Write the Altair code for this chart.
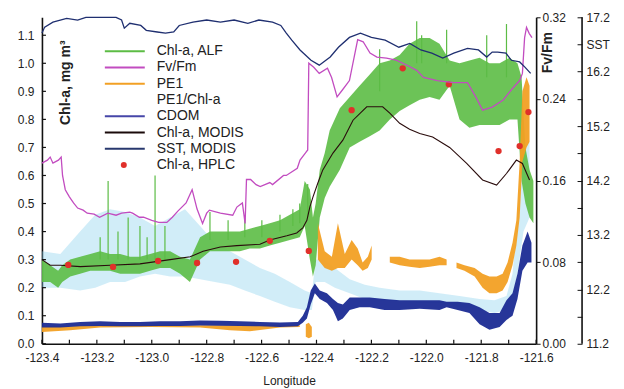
import altair as alt
import pandas as pd

W, H = 495, 327
FONT = "Liberation Sans"
TXT = "#222222"
AX = "#111111"
LFS = 12

lon_domain = [-123.4, -121.6]
chl_domain = [0.0, 1.164]
fv_domain = [0.0, 0.32]
sst_domain = [11.2, 17.2]

x_label_values = [-123.4, -123.2, -123.0, -122.8, -122.6, -122.4, -122.2, -122.0, -121.8, -121.6]
x_tick_values = [-123.4, -123.3, -123.2, -123.1, -123.0, -122.9, -122.8, -122.7, -122.6, -122.5,
                 -122.4, -122.3, -122.2, -122.1, -122.0, -121.9, -121.8, -121.7, -121.6]
chl_tick_values = [0.0, 0.1, 0.2, 0.3, 0.4, 0.5, 0.6, 0.7, 0.8, 0.9, 1.0, 1.1]
fv_tick_values = [0.0, 0.08, 0.16, 0.24, 0.32]
sst_tick_values = [11.2, 11.7, 12.2, 12.7, 13.2, 13.7, 14.2, 14.7, 15.2, 15.7, 16.2, 16.7, 17.2]
sst_labels = ["11.2", "12.2", "13.2", "14.2", "15.2", "16.2", "17.2"]
sst_title_at = "16.7"

# ---- Chl-a, ALF (green noisy band) ----
alf_lon = [-123.40, -123.370, -123.341, -123.326, -123.297, -123.261, -123.224, -123.188, -123.152,
           -123.115, -123.079, -123.043, -123.006, -122.970, -122.933, -122.897, -122.861, -122.824,
           -122.788, -122.752, -122.715, -122.679, -122.643, -122.606, -122.570, -122.533, -122.497,
           -122.461, -122.443, -122.424, -122.413, -122.403, -122.388, -122.370, -122.352, -122.315,
           -122.279, -122.243, -122.206, -122.170, -122.133, -122.097, -122.061, -122.024, -121.988,
           -121.952, -121.915, -121.879, -121.843, -121.806, -121.770, -121.733, -121.697, -121.668,
           -121.653, -121.639, -121.624, -121.610]
alf_lo = [0.22, 0.22, 0.20, 0.22, 0.24, 0.25, 0.26, 0.26, 0.26, 0.25, 0.25, 0.25, 0.26, 0.27, 0.27,
          0.25, 0.22, 0.30, 0.33, 0.33, 0.33, 0.33, 0.34, 0.34, 0.35, 0.36, 0.37, 0.38, 0.42, 0.30,
          0.24, 0.28, 0.45, 0.52, 0.56, 0.62, 0.70, 0.72, 0.74, 0.76, 0.80, 0.83, 0.85, 0.87, 0.88,
          0.87, 0.92, 0.80, 0.77, 0.78, 0.78, 0.78, 0.80, 0.80, 0.58, 0.50, 0.45, 0.43]
alf_hi = [0.30, 0.28, 0.26, 0.28, 0.30, 0.31, 0.32, 0.33, 0.32, 0.32, 0.31, 0.31, 0.32, 0.33, 0.33,
          0.31, 0.30, 0.38, 0.40, 0.40, 0.40, 0.40, 0.41, 0.42, 0.43, 0.44, 0.46, 0.48, 0.58, 0.55,
          0.45, 0.50, 0.62, 0.68, 0.76, 0.84, 0.88, 0.92, 0.96, 1.00, 1.01, 1.03, 1.07, 1.09, 1.09,
          1.07, 1.01, 1.00, 1.01, 1.02, 1.00, 1.00, 1.02, 1.00, 0.95, 0.70, 0.62, 0.58]
spike_lon = [-123.188, -123.159, -123.123, -123.086, -123.043, -123.017, -122.988, -122.952,
             -122.788, -122.722, -122.661, -122.599, -122.533, -122.486, -122.461, -122.432,
             -122.170, -122.035, -122.017, -121.926, -121.780, -121.708]
spike_lo = [0.30, 0.30, 0.30, 0.30, 0.30, 0.30, 0.30, 0.30, 0.37, 0.37, 0.38, 0.38, 0.40, 0.42,
            0.43, 0.45, 0.90, 1.00, 1.00, 1.00, 0.95, 0.95]
spike_hi = [0.38, 0.58, 0.40, 0.45, 0.42, 0.38, 0.60, 0.42, 0.47, 0.44, 0.45, 0.44, 0.46, 0.48,
            0.50, 0.57, 1.05, 1.15, 1.10, 1.12, 1.10, 1.14]

# ---- PE1 (orange noisy band, with gaps) ----
pe1_seg = ["A"] * 9 + ["B"] * 3 + ["D"] * 10 + ["E"] * 7 + ["F"] * 14
pe1_lon = [-123.40, -123.297, -123.188, -123.006, -122.824, -122.715, -122.643, -122.533, -122.461,
           -122.439, -122.428, -122.417,
           -122.395, -122.370, -122.344, -122.322, -122.297, -122.272, -122.250, -122.232, -122.213, -122.199,
           -122.133, -122.097, -122.061, -122.024, -121.988, -121.952, -121.926,
           -121.890, -121.861, -121.824, -121.795, -121.770, -121.744, -121.722, -121.704, -121.686,
           -121.672, -121.660, -121.650, -121.635, -121.624]
pe1_lo = [0.042, 0.048, 0.058, 0.060, 0.058, 0.048, 0.045, 0.058, 0.060,
          0.025, 0.020, 0.025,
          0.30, 0.27, 0.26, 0.27, 0.27, 0.30, 0.28, 0.26, 0.27, 0.30,
          0.29, 0.28, 0.275, 0.27, 0.275, 0.28, 0.28,
          0.27, 0.26, 0.24, 0.20, 0.18, 0.18, 0.19, 0.22, 0.28, 0.35, 0.45, 0.65, 0.70, 0.72]
pe1_hi = [0.062, 0.062, 0.066, 0.066, 0.066, 0.066, 0.066, 0.066, 0.066,
          0.070, 0.075, 0.060,
          0.43, 0.33, 0.31, 0.43, 0.32, 0.37, 0.34, 0.29, 0.31, 0.35,
          0.31, 0.31, 0.30, 0.30, 0.30, 0.31, 0.30,
          0.29, 0.28, 0.27, 0.25, 0.24, 0.24, 0.25, 0.29, 0.36, 0.44, 0.65, 0.90, 0.95, 0.92]

# ---- PE1/Chl-a (light cyan scatter cloud) ----
ratio_lon = [-123.40, -123.333, -123.261, -123.206, -123.152, -123.097, -123.043, -122.988, -122.933,
             -122.879, -122.824, -122.770, -122.715, -122.661, -122.606, -122.552, -122.497, -122.443,
             -122.417, -122.403, -122.370, -122.333, -122.279, -122.224, -122.170, -122.097, -122.024,
             -121.952, -121.879, -121.806, -121.752, -121.708, -121.686, -121.668, -121.646, -121.624]
ratio_lo = [0.20, 0.20, 0.19, 0.20, 0.22, 0.22, 0.24, 0.25, 0.24, 0.24, 0.23, 0.22, 0.21, 0.19, 0.17,
            0.15, 0.13, 0.12, 0.12, 0.22, 0.22, 0.20, 0.18, 0.16, 0.155, 0.15, 0.145, 0.145, 0.13,
            0.12, 0.11, 0.12, 0.17, 0.25, 0.40, 0.45]
ratio_hi = [0.33, 0.32, 0.40, 0.46, 0.48, 0.47, 0.45, 0.42, 0.45, 0.48, 0.42, 0.36, 0.33, 0.30, 0.27,
            0.25, 0.22, 0.19, 0.18, 0.30, 0.30, 0.27, 0.23, 0.21, 0.20, 0.19, 0.19, 0.18, 0.17,
            0.16, 0.155, 0.17, 0.25, 0.45, 0.70, 0.72]

# ---- CDOM (dark blue noisy band) ----
cdom_lon = [-123.40, -123.333, -123.261, -123.188, -123.115, -123.043, -122.970, -122.897, -122.824,
            -122.752, -122.679, -122.606, -122.533, -122.468, -122.450, -122.435, -122.421, -122.406,
            -122.388, -122.362, -122.340, -122.322, -122.304, -122.279, -122.243, -122.206, -122.152,
            -122.097, -122.024, -121.952, -121.926, -121.886, -121.843, -121.806, -121.770, -121.733,
            -121.708, -121.686, -121.668, -121.650, -121.631, -121.617]
cdom_lo = [0.058, 0.058, 0.062, 0.063, 0.062, 0.062, 0.063, 0.063, 0.065, 0.064, 0.063, 0.062, 0.060,
           0.062, 0.075, 0.090, 0.140, 0.180, 0.160, 0.145, 0.120, 0.080, 0.090, 0.120, 0.130, 0.130,
           0.120, 0.120, 0.125, 0.120, 0.130, 0.120, 0.110, 0.070, 0.050, 0.060, 0.085, 0.100, 0.160,
           0.260, 0.290, 0.290]
cdom_hi = [0.075, 0.072, 0.078, 0.080, 0.078, 0.078, 0.080, 0.080, 0.083, 0.082, 0.080, 0.078, 0.076,
           0.078, 0.100, 0.130, 0.190, 0.215, 0.190, 0.180, 0.160, 0.145, 0.140, 0.165, 0.165, 0.165,
           0.160, 0.155, 0.155, 0.155, 0.150, 0.150, 0.145, 0.130, 0.110, 0.110, 0.155, 0.180, 0.250,
           0.350, 0.400, 0.360]

# ---- Chl-a, MODIS (dark line) ----
modis_lon = [-123.40, -123.37, -123.333, -123.26, -123.151, -123.043, -122.933, -122.86, -122.813,
             -122.75, -122.69, -122.606, -122.57, -122.508, -122.472, -122.45, -122.435, -122.424,
             -122.413, -122.395, -122.377, -122.34, -122.304, -122.267, -122.217, -122.159, -122.133,
             -122.097, -122.061, -122.024, -121.977, -121.915, -121.853, -121.795, -121.744, -121.708,
             -121.672, -121.65, -121.624]
modis_val = [0.30, 0.28, 0.28, 0.275, 0.28, 0.285, 0.30, 0.31, 0.33, 0.345, 0.35, 0.355, 0.37, 0.385,
             0.395, 0.413, 0.44, 0.488, 0.523, 0.573, 0.62, 0.68, 0.726, 0.797, 0.845, 0.845, 0.822,
             0.786, 0.765, 0.75, 0.737, 0.70, 0.643, 0.584, 0.566, 0.607, 0.655, 0.643, 0.584]

# ---- Chl-a, HPLC (red dots) ----
hplc_lon = [-123.304, -123.141, -122.977, -122.835, -122.693, -122.570, -122.428, -122.272, -122.086,
            -121.918, -121.737, -121.660, -121.628]
hplc_val = [0.281, 0.274, 0.295, 0.288, 0.292, 0.367, 0.331, 0.833, 0.982, 0.925, 0.687, 0.705, 0.826]

# ---- Fv/Fm (magenta line) ----
fv_lon = [-123.40, -123.38, -123.37, -123.36, -123.34, -123.33, -123.325, -123.315, -123.30, -123.285,
          -123.27, -123.25, -123.235, -123.21, -123.19, -123.16, -123.13, -123.11, -123.08, -123.07,
          -123.045, -123.03, -123.0, -122.975, -122.945, -122.925, -122.905, -122.875, -122.853,
          -122.835, -122.815, -122.80, -122.79, -122.75, -122.705, -122.69, -122.67, -122.66, -122.655,
          -122.64, -122.62, -122.605, -122.57, -122.56, -122.52, -122.51, -122.47, -122.46, -122.44,
          -122.432, -122.428, -122.41, -122.39, -122.36, -122.345, -122.325, -122.305, -122.28,
          -122.25, -122.23, -122.205, -122.18, -122.145, -122.11, -122.07, -122.035, -122.01, -121.96,
          -121.90, -121.85, -121.82, -121.795, -121.76, -121.72, -121.69, -121.66, -121.65, -121.642,
          -121.635, -121.625, -121.615]
fv_val = [0.177, 0.180, 0.183, 0.177, 0.180, 0.183, 0.165, 0.151, 0.144, 0.138, 0.133, 0.131, 0.128,
          0.127, 0.124, 0.128, 0.126, 0.128, 0.129, 0.128, 0.124, 0.124, 0.121, 0.119, 0.119, 0.124,
          0.130, 0.138, 0.151, 0.132, 0.118, 0.128, 0.131, 0.128, 0.126, 0.134, 0.138, 0.118, 0.161,
          0.161, 0.156, 0.154, 0.158, 0.156, 0.165, 0.165, 0.172, 0.180, 0.187, 0.190, 0.275, 0.271,
          0.265, 0.270, 0.261, 0.242, 0.249, 0.258, 0.298, 0.296, 0.285, 0.281, 0.280, 0.278, 0.273,
          0.268, 0.261, 0.258, 0.256, 0.256, 0.242, 0.229, 0.232, 0.239, 0.249, 0.258, 0.265, 0.300,
          0.310, 0.304, 0.300]

# ---- SST, MODIS (navy line) ----
sst_lon = [-123.40, -123.39, -123.36, -123.31, -123.27, -123.24, -123.19, -123.13, -123.11, -123.10,
           -123.08, -123.04, -123.02, -122.98, -122.95, -122.92, -122.90, -122.85, -122.80, -122.75,
           -122.70, -122.65, -122.61, -122.56, -122.53, -122.51, -122.49, -122.46, -122.42, -122.39,
           -122.35, -122.32, -122.28, -122.24, -122.20, -122.15, -122.10, -122.06, -122.02, -121.98,
           -121.94, -121.90, -121.85, -121.81, -121.78, -121.76, -121.74, -121.71, -121.69, -121.66,
           -121.64, -121.62]
sst_val = [16.91, 17.02, 17.11, 17.18, 17.15, 17.20, 17.20, 17.20, 17.15, 17.00, 17.09, 17.05, 16.96,
           16.93, 16.91, 16.93, 17.05, 17.11, 17.15, 17.11, 17.15, 17.09, 17.15, 17.11, 17.05, 16.91,
           16.78, 16.60, 16.41, 16.32, 16.47, 16.65, 16.83, 16.91, 16.83, 16.78, 16.65, 16.72, 16.60,
           16.54, 16.45, 16.54, 16.63, 16.60, 16.47, 16.56, 16.56, 16.54, 16.41, 16.38, 16.28, 16.17]

# ---- legend ----
leg_names = ["Chl-a, ALF", "Fv/Fm", "PE1", "PE1/Chl-a", "CDOM", "Chl-a, MODIS", "SST, MODIS", "Chl-a, HPLC"]
leg_colors = ["#5cbc45", "#c24cc0", "#f2a024", "#8fd3ee", "#4646a8", "#1a0a0a", "#28386e", "#e0302a"]
leg_kinds = ["line", "line", "line", "none", "line", "line", "line", "dot"]

C_ALF, C_FV, C_PE1, C_RATIO = "#5cbc45", "#c24cc0", "#f2a024", "#86cfec"
C_CDOM, C_MODIS, C_SST, C_HPLC = "#1b2b94", "#2a0c0c", "#1f2f70", "#e0302a"

# ---------------- data frames ----------------
df_alf = pd.DataFrame({"lon": alf_lon, "lo": alf_lo, "hi": alf_hi})
df_spk = pd.DataFrame({"lon": spike_lon, "lo": spike_lo, "hi": spike_hi})
df_pe1 = pd.DataFrame({"seg": pe1_seg, "lon": pe1_lon, "lo": pe1_lo, "hi": pe1_hi})
df_ratio = pd.DataFrame({"lon": ratio_lon, "lo": ratio_lo, "hi": ratio_hi})
df_cdom = pd.DataFrame({"lon": cdom_lon, "lo": cdom_lo, "hi": cdom_hi})
df_modis = pd.DataFrame({"lon": modis_lon, "v": modis_val})
df_hplc = pd.DataFrame({"lon": hplc_lon, "v": hplc_val})
df_fv = pd.DataFrame({"lon": fv_lon, "v": fv_val})
df_sst = pd.DataFrame({"lon": sst_lon, "v": sst_val})
df_leg = pd.DataFrame({"name": leg_names, "color": leg_colors, "kind": leg_kinds})
df_xt = pd.DataFrame({"v": x_tick_values})
df_yt = pd.DataFrame({"v": chl_tick_values})
df_sst_line = pd.DataFrame({"a": [sst_domain[0]], "b": [sst_domain[1]]})

x_axis = alt.Axis(values=x_label_values, tickSize=0, labelPadding=9, title="Longitude",
                  labelExpr="replace(format(datum.value, '.1f'), '\u2212', '-')",
                  labelFlush=False, labelOverlap=False,
                  domainColor=AX, domainWidth=1.6, labelFontSize=LFS, labelColor=TXT,
                  titleFontSize=12, titleFontWeight="normal", titleColor=TXT, titlePadding=12)


def X(f):
    return alt.X(f, type="quantitative",
                 scale=alt.Scale(domain=lon_domain, nice=False, zero=False), axis=x_axis)


chl_axis = alt.Axis(orient="left", values=chl_tick_values, format=".1f", tickSize=0, labelPadding=8,
                    labelFlush=False, labelOverlap=False,
                    domainColor=AX, domainWidth=1.6, labelFontSize=LFS, labelColor=TXT,
                    title="Chl-a, mg m\u00b3", titleX=24, titleY=65, titleAngle=270,
                    titleAlign="center", titleBaseline="middle", titleFontSize=14,
                    titleFontWeight="bold", titleColor=TXT)


def YC(f):
    return alt.Y(f, type="quantitative",
                 scale=alt.Scale(domain=chl_domain, nice=False, zero=False), axis=chl_axis)


fv_axis = alt.Axis(orient="right", values=fv_tick_values, format=".2f", tickSize=4, tickColor=AX,
                   labelFlush=False, labelOverlap=False,
                   labelPadding=2, domainColor=AX, domainWidth=1.6, labelFontSize=LFS, labelColor=TXT,
                   title="Fv/Fm", titleX=11, titleY=35, titleAngle=270, titleAlign="center",
                   titleBaseline="middle", titleFontSize=14, titleFontWeight="bold", titleColor=TXT)

lab = "format(datum.value, '.1f')"
sst_expr = " || ".join(f"{lab} == '{s}'" for s in sst_labels)
sst_axis = alt.Axis(orient="right", offset=41, values=sst_tick_values, tickSize=5, tickColor=AX,
                    labelFlush=False, labelOverlap=False,
                    domain=False, labelPadding=4, labelFontSize=LFS, labelColor=TXT, title=None,
                    labelExpr=f"({sst_expr}) ? {lab} : ({lab} == '{sst_title_at}' ? 'SST' : '')")


def YF(f):
    return alt.Y(f, type="quantitative", scale=alt.Scale(domain=fv_domain, nice=False, zero=False), axis=fv_axis)


def YS(f):
    return alt.Y(f, type="quantitative", scale=alt.Scale(domain=sst_domain, nice=False, zero=False), axis=sst_axis)


# ---------------- chl-scale layers ----------------
ratio = alt.Chart(df_ratio).mark_area(color=C_RATIO, opacity=0.38).encode(x=X("lon"), y=YC("lo"), y2="hi")
alf = alt.Chart(df_alf).mark_area(color=C_ALF, opacity=0.9).encode(x=X("lon"), y=YC("lo"), y2="hi")
spikes = alt.Chart(df_spk).mark_rule(color=C_ALF, strokeWidth=1.2).encode(x=X("lon"), y=YC("lo"), y2="hi")
pe1 = alt.Chart(df_pe1).mark_area(color=C_PE1, opacity=0.95).encode(
    x=X("lon"), y=YC("lo"), y2="hi", detail="seg:N")
cdom = alt.Chart(df_cdom).mark_area(color=C_CDOM, opacity=0.95).encode(x=X("lon"), y=YC("lo"), y2="hi")
modis = alt.Chart(df_modis).mark_line(color=C_MODIS, strokeWidth=1.1).encode(x=X("lon"), y=YC("v"))
hplc = alt.Chart(df_hplc).mark_circle(color=C_HPLC, size=40, opacity=1).encode(x=X("lon"), y=YC("v"))
xt = alt.Chart(df_xt).mark_rule(color=AX, strokeWidth=1.2).encode(x=X("v"), y=alt.value(H), y2=alt.value(H - 4))
yt = alt.Chart(df_yt).mark_rule(color=AX, strokeWidth=1.2).encode(y=YC("v"), x=alt.value(0), x2=alt.value(4))

# ---------------- Fv/Fm layer ----------------
fv = alt.Chart(df_fv).mark_line(color=C_FV, strokeWidth=1.3).encode(x=X("lon"), y=YF("v"))

# ---------------- SST layers ----------------
sst = alt.Chart(df_sst).mark_line(color=C_SST, strokeWidth=1.3).encode(x=X("lon"), y=YS("v"))
sst_dom = alt.Chart(df_sst_line).mark_rule(color=AX, strokeWidth=1.6).encode(
    x=alt.value(W + 46), y=YS("a"), y2="b")

# ---------------- legend ----------------
yl = alt.Y("name:N", scale=alt.Scale(type="point", domain=leg_names, range=[34, 148], padding=0), axis=None)
leg_lines = alt.Chart(df_leg).transform_filter("datum.kind == 'line'").mark_rule(strokeWidth=2).encode(
    x=alt.value(63), x2=alt.value(103), y=yl, color=alt.Color("color:N", scale=None))
leg_dot = alt.Chart(df_leg).transform_filter("datum.kind == 'dot'").mark_circle(size=36, opacity=1).encode(
    x=alt.value(82), y=yl, color=alt.Color("color:N", scale=None))
leg_text = alt.Chart(df_leg).mark_text(align="left", baseline="middle", fontSize=14, font=FONT, color=TXT).encode(
    x=alt.value(115), y=yl, text="name:N")

chl_group = alt.layer(ratio, alf, spikes, pe1, cdom, modis, hplc, xt, yt)
fv_group = alt.layer(fv)
sst_group = alt.layer(sst, sst_dom)
leg_group = alt.layer(leg_lines, leg_dot, leg_text)

chart = alt.layer(chl_group, fv_group, sst_group, leg_group).resolve_scale(y="independent").properties(
    width=W, height=H,
    autosize=alt.AutoSizeParams(type="none"),
    padding={"left": 34, "top": 9, "right": 80, "bottom": 45},
    background="white",
).configure_view(stroke=None).configure_axis(grid=False, labelFont=FONT, titleFont=FONT)

chart.save("out.html", embed_options={"renderer": "svg", "actions": False})
